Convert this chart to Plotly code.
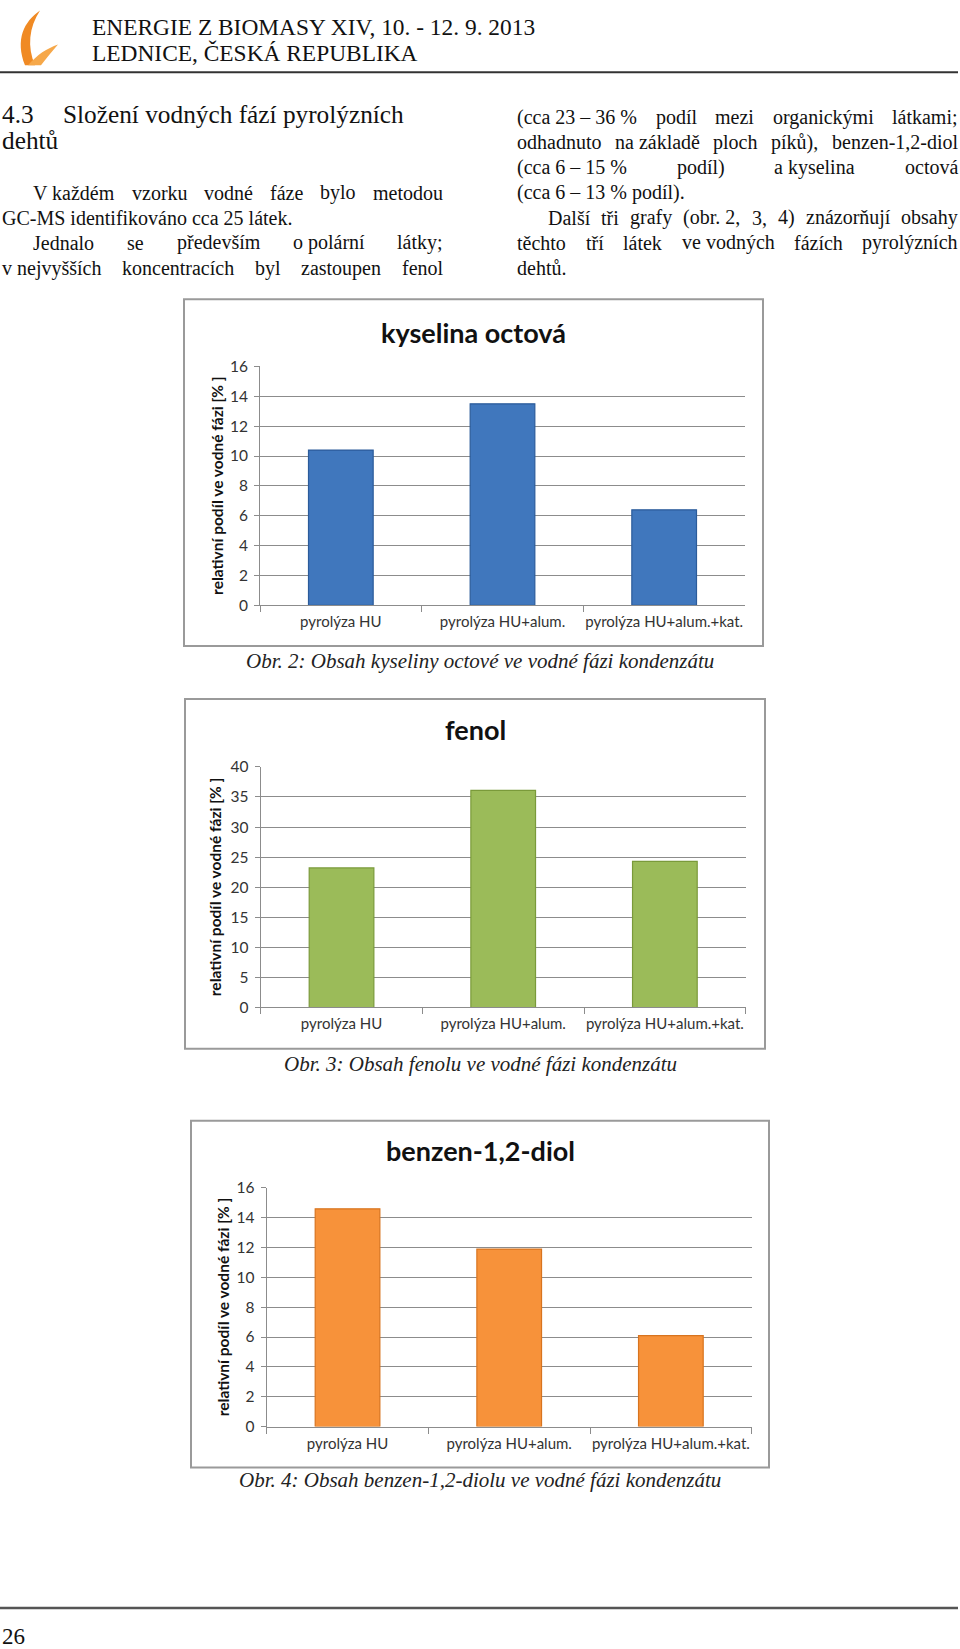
import unicodedata
import plotly.graph_objects as go

W = 960
HF = 1649
# measured mapping of the page photo: page_y = PY0 + PS * figure_y
PY0 = 8.6
PS = 0.9897

# ---------------- data ----------------
categories = ["pyrolýza HU", "pyrolýza HU+alum.", "pyrolýza HU+alum.+kat."]
kyselina_octova = [10.4, 13.5, 6.4]
fenol = [23.2, 36.1, 24.3]
benzen_diol = [14.6, 11.9, 6.1]
ticks_16 = [0, 2, 4, 6, 8, 10, 12, 14, 16]
ticks_40 = [0, 5, 10, 15, 20, 25, 30, 35, 40]

chart_titles = ["kyselina octová", "fenol", "benzen-1,2-diol"]
captions = [
    "Obr. 2: Obsah kyseliny octové ve vodné fázi kondenzátu",
    "Obr. 3: Obsah fenolu ve vodné fázi kondenzátu",
    "Obr. 4: Obsah benzen-1,2-diolu ve vodné fázi kondenzátu",
]
y_title = "relativní podíl ve vodné fázi [% ]"

# ---------------- layout geometry (page pixels) ----------------
charts = [
    dict(vals=kyselina_octova, ticks=ticks_16, color="#4077bd", edge="#2b5b9a",
         plot=(260, 365.3, 745, 604.3), frame=(184, 298, 763, 645),
         title_xy=(473, 331), ytitle_x=217, cap_y=660),
    dict(vals=fenol, ticks=ticks_40, color="#9bbb59", edge="#7a9a3a",
         plot=(260.7, 766, 745.7, 1006.7), frame=(185, 698, 765, 1048),
         title_xy=(475, 729), ytitle_x=215, cap_y=1063),
    dict(vals=benzen_diol, ticks=ticks_16, color="#f7923a", edge="#d8741f",
         plot=(266.7, 1187.3, 751.7, 1426), frame=(191, 1120, 769, 1467),
         title_xy=(480, 1150), ytitle_x=223, cap_y=1480),
]

GRID = "#8c8c8c"
SANS = "Lato"
SERIF = "Liberation Serif"


def fy(page_y):
    return (page_y - PY0) / PS


def ydom(top, bottom):
    return [1 - fy(bottom) / HF, 1 - fy(top) / HF]


fig = go.Figure()
layout = dict(width=W, height=HF, margin=dict(l=0, r=0, t=0, b=0),
              paper_bgcolor="white", plot_bgcolor="rgba(0,0,0,0)",
              showlegend=False, barmode="group")
annotations = []
shapes = []

for i, c in enumerate(charts, start=1):
    xa = "xaxis" if i == 1 else f"xaxis{i}"
    ya = "yaxis" if i == 1 else f"yaxis{i}"
    xr = "x" if i == 1 else f"x{i}"
    yr = "y" if i == 1 else f"y{i}"
    l, t, r, b = c["plot"]
    layout[xa] = dict(domain=[l / W, r / W], anchor=yr, type="category",
                      showline=True, linecolor=GRID, linewidth=1,
                      ticks="outside", tickson="boundaries", ticklen=6,
                      tickcolor=GRID, ticklabelstandoff=3, tickangle=0,
                      tickfont=dict(family=SANS, size=15, color="#333333"),
                      showgrid=False, fixedrange=True)
    layout[ya] = dict(domain=ydom(t, b), anchor=xr,
                      range=[0, max(c["ticks"])], tickvals=c["ticks"],
                      showgrid=True, gridcolor=GRID, gridwidth=1,
                      showline=True, linecolor=GRID, linewidth=1,
                      ticks="outside", ticklen=5, tickcolor=GRID,
                      ticklabelstandoff=3, zeroline=False,
                      tickfont=dict(family=SANS, size=15.5, color="#333333"),
                      fixedrange=True)
    fig.add_trace(go.Bar(x=categories, y=c["vals"], width=0.4,
                         marker=dict(color=c["color"],
                                     line=dict(color=c["edge"], width=1.2)),
                         xaxis=xr, yaxis=yr, hoverinfo="x+y"))
    fl, ft, fr, fb = c["frame"]
    shapes.append(dict(type="rect", xref="x4", yref="y4", x0=fl, y0=ft, x1=fr, y1=fb,
                       line=dict(color="#9a9a9a", width=2), fillcolor="rgba(0,0,0,0)",
                       layer="above"))
    annotations.append(dict(xref="x4", yref="y4", x=c["title_xy"][0], y=c["title_xy"][1],
                            text=f"<b>{chart_titles[i-1]}</b>", showarrow=False,
                            font=dict(family=SANS, size=27, color="#111111"),
                            xanchor="center", yanchor="middle"))
    annotations.append(dict(xref="x4", yref="y4", x=c["ytitle_x"], y=(t + b) / 2,
                            text=f"<b>{y_title}</b>", showarrow=False, textangle=-90,
                            font=dict(family=SANS, size=15.5, color="#111111"),
                            xanchor="center", yanchor="middle"))
    annotations.append(dict(xref="x4", yref="y4", x=480, y=c["cap_y"],
                            text=f"<i>{captions[i-1]}</i>", showarrow=False,
                            font=dict(family=SERIF, size=21, color="#222222"),
                            xanchor="center", yanchor="middle"))

# pixel overlay axes (page coordinates) for page text and decoration
layout["xaxis4"] = dict(domain=[0, 1], range=[0, W], visible=False, fixedrange=True, anchor="y4")
layout["yaxis4"] = dict(domain=[0, 1], range=[PY0 + PS * HF, PY0], visible=False,
                        fixedrange=True, anchor="x4")
fig.add_trace(go.Scatter(x=[], y=[], xaxis="x4", yaxis="y4", hoverinfo="skip"))

# ---------------- page text ----------------
TW = {}
for ch, w in zip("abcdefghijklmnopqrstuvwxyz",
                 [444, 500, 444, 500, 444, 333, 500, 500, 278, 278, 500, 278, 778,
                  500, 500, 500, 500, 333, 389, 278, 500, 500, 722, 500, 500, 444]):
    TW[ch] = w
for ch, w in zip("ABCDEFGHIJKLMNOPQRSTUVWXYZ",
                 [722, 667, 667, 722, 611, 556, 722, 722, 333, 389, 722, 611, 889,
                  722, 722, 556, 722, 667, 556, 611, 722, 722, 944, 722, 722, 611]):
    TW[ch] = w
for ch in "0123456789":
    TW[ch] = 500
TW.update({" ": 250, ".": 250, ",": 250, ";": 278, ":": 278, "(": 333, ")": 333,
           "%": 833, "–": 500, "-": 333, "[": 333, "]": 333, "+": 564})


def text_width(s, size):
    tot = 0
    for ch in s:
        base = unicodedata.normalize("NFD", ch)[0]
        tot += TW.get(base, 500)
    return tot * size / 1000.0


def add_text(x, y, s, size, anchor="left", family=SERIF, color="#111111"):
    annotations.append(dict(xref="x4", yref="y4", x=x, y=y, text=s, showarrow=False,
                            font=dict(family=family, size=size, color=color),
                            xanchor=anchor, yanchor="middle", borderpad=0, borderwidth=0))


def justify(words, x0, x1, y, size):
    widths = [text_width(w, size) for w in words]
    gap = (x1 - x0 - sum(widths)) / (len(words) - 1)
    x = x0
    for w, wd in zip(words, widths):
        add_text(x, y, w, size)
        x += wd + gap


BODY = 20
LX0, LX1 = 2, 443
RX0, RX1 = 517, 958
IND = 31
LINE = [115.7 + 25.2 * k for k in range(7)]

# header
add_text(92, 26, "ENERGIE Z BIOMASY XIV, 10. - 12. 9. 2013", 23.4)
add_text(92, 51.5, "LEDNICE, ČESKÁ REPUBLIKA", 23.4)
# heading
add_text(2, 113, "4.3", 25.3)
add_text(63, 113, "Složení vodných fází pyrolýzních", 25.3)
add_text(2, 139, "dehtů", 25.3)
# left column
justify(["V každém", "vzorku", "vodné", "fáze", "bylo", "metodou"], LX0 + IND, LX1, LINE[3], BODY)
add_text(LX0, LINE[4], "GC-MS identifikováno cca 25 látek.", BODY)
justify(["Jednalo", "se", "především", "o polární", "látky;"], LX0 + IND, LX1, LINE[5], BODY)
justify(["v nejvyšších", "koncentracích", "byl", "zastoupen", "fenol"], LX0, LX1, LINE[6], BODY)
# right column
justify(["(cca 23 – 36 %", "podíl", "mezi", "organickými", "látkami;"], RX0, RX1, LINE[0], BODY)
justify(["odhadnuto", "na základě", "ploch", "píků),", "benzen-1,2-diol"], RX0, RX1, LINE[1], BODY)
justify(["(cca 6 – 15 %", "podíl)", "a kyselina", "octová"], RX0, RX1, LINE[2], BODY)
add_text(RX0, LINE[3], "(cca 6 – 13 % podíl).", BODY)
justify(["Další", "tři", "grafy", "(obr. 2,", "3,", "4)", "znázorňují", "obsahy"], RX0 + IND, RX1, LINE[4], BODY)
justify(["těchto", "tří", "látek", "ve vodných", "fázích", "pyrolýzních"], RX0, RX1, LINE[5], BODY)
add_text(RX0, LINE[6], "dehtů.", BODY)
# footer page number
add_text(2, 1636, "26", 23)

# rules
shapes.append(dict(type="line", xref="x4", yref="y4", x0=0, x1=958, y0=71, y1=71,
                   line=dict(color="#333333", width=2), layer="above"))
shapes.append(dict(type="line", xref="x4", yref="y4", x0=0, x1=958, y0=1607.5, y1=1607.5,
                   line=dict(color="#555555", width=2.5), layer="above"))
# logo flame
shapes.append(dict(type="path", xref="x4", yref="y4",
                   path="M 40 9 C 24 20 15 38 25 64 L 35 64 C 27 45 29 26 40 9 Z",
                   fillcolor="#f08a24", line=dict(width=0), layer="above"))
shapes.append(dict(type="path", xref="x4", yref="y4",
                   path="M 28 64 C 37 53 47 47 58 43 C 52 50 46 57 41 64 Z",
                   fillcolor="#f6a84a", line=dict(width=0), layer="above"))

layout["annotations"] = annotations
layout["shapes"] = shapes
fig.update_layout(**layout)
fig.write_html("out.html")
